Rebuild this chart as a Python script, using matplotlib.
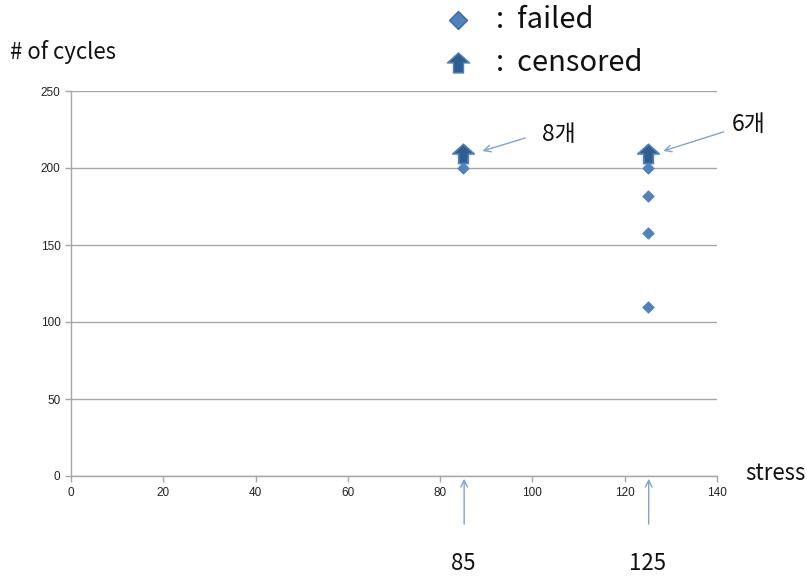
import matplotlib
matplotlib.use("Agg")
import matplotlib.pyplot as plt
from matplotlib.path import Path
from matplotlib.lines import Line2D

plt.rcParams['font.family'] = ['Noto Sans CJK KR', 'DejaVu Sans']

# Data
failed_stress = [85, 125, 125, 125, 125]
failed_cycles = [200, 200, 182, 158, 110]
censored_stress = [85, 125]
censored_cycles = [209, 209]
censored_counts = ["8개", "6개"]
x_ticks = [0, 20, 40, 60, 80, 100, 120, 140]
y_ticks = [0, 50, 100, 150, 200, 250]
stress_levels = [85, 125]
legend_labels = [':  failed', ':  censored']

# Up-arrow marker shape
arrow_verts = [(0, 0.95), (1.0, 0.05), (0.45, 0.05), (0.45, -0.85), (-0.45, -0.85),
               (-0.45, 0.05), (-1.0, 0.05), (0, 0.95)]
arrow_codes = [Path.MOVETO] + [Path.LINETO] * 6 + [Path.CLOSEPOLY]
up_arrow = Path(arrow_verts, arrow_codes)

fill_blue = '#4F81BD'
dark_blue = '#2F5D8E'
line_blue = '#7FA3CF'
grid_gray = '#A6A6A6'

fig = plt.figure(figsize=(8.07, 5.76), dpi=100)
ax = fig.add_axes([71/807, 100/576, 646/807, 385/576])

ax.set_xlim(0, 140)
ax.set_ylim(0, 250)
ax.set_xticks(x_ticks)
ax.set_yticks(y_ticks)
ax.tick_params(axis='both', labelsize=8.5, length=4, color=grid_gray, width=1,
               labelcolor='#222222')
ax.tick_params(axis='x', pad=4)
for s in ['top', 'right']:
    ax.spines[s].set_visible(False)
for s in ['left', 'bottom']:
    ax.spines[s].set_color(grid_gray)
    ax.spines[s].set_linewidth(1)
for t in ax.get_xticklabels() + ax.get_yticklabels():
    t.set_family(['Liberation Sans', 'DejaVu Sans'])
ax.grid(axis='y', color=grid_gray, linewidth=1)
ax.set_axisbelow(True)

ax.scatter(failed_stress, failed_cycles, marker='D', s=30, color=fill_blue,
           edgecolor=fill_blue, zorder=3, clip_on=False)
ax.scatter(censored_stress, censored_cycles, marker=up_arrow, s=240,
           color=dark_blue, edgecolor=fill_blue, linewidths=1.2, zorder=4,
           clip_on=False)

# Counts of censored units
count_pos = [((105.8, 222), (99.0, 220), (88.6, 210.5)),
             ((146.8, 228), (142.0, 224), (127.8, 210.5))]
for label, (txt, tail, head) in zip(censored_counts, count_pos):
    ax.text(txt[0], txt[1], label, fontsize=16.5, ha='center', va='center',
            color='#111111', clip_on=False)
    ax.annotate('', xy=head, xytext=tail, annotation_clip=False,
                arrowprops=dict(arrowstyle='->', color=line_blue, lw=1,
                                mutation_scale=12))

# Stress-level markers under the axis
for sx in stress_levels:
    ax.annotate('', xy=(sx + 0.2, 0), xytext=(sx + 0.2, -33),
                annotation_clip=False,
                arrowprops=dict(arrowstyle='->', color=line_blue, lw=1,
                                mutation_scale=12))
    ax.text(sx, -57, str(sx), fontsize=16, ha='center', va='center',
            color='#111111', clip_on=False)

fig.text(10/807, 1 - 52/576, '# of cycles', fontsize=16, va='center',
         ha='left', color='#111111')
fig.text(745/807, 1 - 473/576, 'stress', fontsize=16, va='center',
         ha='left', color='#111111')

# Key
key_markers = [
    dict(marker='D', markersize=9, color=fill_blue, markeredgecolor='#3A6A9F'),
    dict(marker=up_arrow, markersize=16, color=dark_blue,
         markeredgecolor=fill_blue),
]
key_rows = [20, 63]
for label, style, py in zip(legend_labels, key_markers, key_rows):
    fig.add_artist(Line2D([458/807], [1 - py/576], transform=fig.transFigure,
                          linestyle='none', **style))
    fig.text(496/807, 1 - py/576, label, fontsize=21, va='center', ha='left',
             color='#111111')

fig.savefig('out.png', dpi=100, facecolor='white')
